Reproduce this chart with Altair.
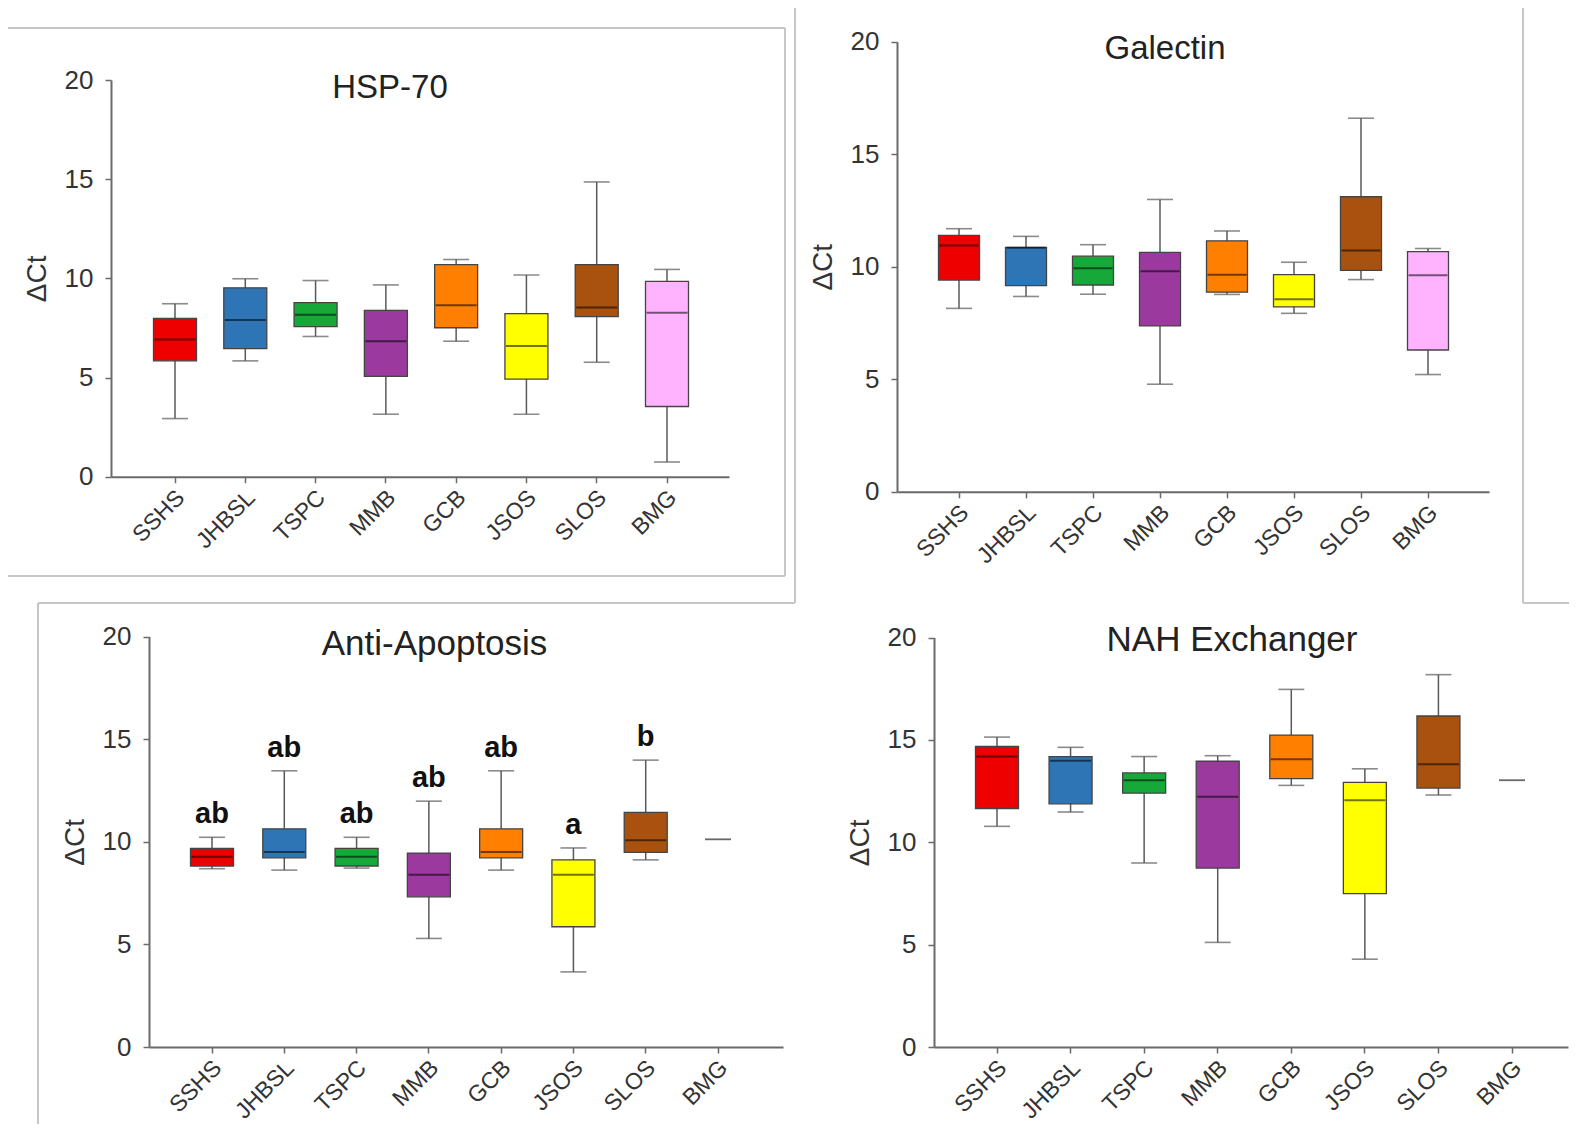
import altair as alt
import pandas as pd

# ---------------- data ----------------
categories = ["SSHS", "JHBSL", "TSPC", "MMB", "GCB", "JSOS", "SLOS", "BMG"]
box_colors = ["#ee0000", "#2e75b6", "#17a83a", "#9b399e", "#ff7f00", "#ffff00", "#a9520f", "#ffb3ff"]

# HSP-70
hsp_low = [2.93, 5.84, 7.07, 3.15, 6.83, 3.15, 5.77, 0.74]
hsp_q1 = [5.84, 6.46, 7.57, 5.06, 7.51, 4.92, 8.07, 3.54]
hsp_median = [6.92, 7.90, 8.16, 6.83, 8.65, 6.59, 8.53, 8.27]
hsp_q3 = [7.98, 9.52, 8.78, 8.39, 10.69, 8.22, 10.69, 9.85]
hsp_high = [8.72, 9.98, 9.89, 9.67, 10.95, 10.17, 14.86, 10.45]

# Galectin
gal_low = [8.15, 8.68, 8.78, 4.78, 8.77, 7.93, 9.43, 5.21]
gal_q1 = [9.41, 9.16, 9.19, 7.37, 8.87, 8.22, 9.84, 6.30]
gal_median = [10.94, 10.84, 9.93, 9.80, 9.65, 8.56, 10.72, 9.62]
gal_q3 = [11.39, 10.86, 10.47, 10.64, 11.15, 9.65, 13.11, 10.67]
gal_high = [11.69, 11.35, 10.98, 12.99, 11.59, 10.20, 16.60, 10.81]

# Anti-Apoptosis
apo_low = [8.69, 8.62, 8.72, 5.29, 8.62, 3.66, 9.12, 10.12]
apo_q1 = [8.82, 9.22, 8.82, 7.32, 9.22, 5.86, 9.48, 10.12]
apo_median = [9.27, 9.50, 9.27, 8.40, 9.50, 8.40, 10.07, 10.12]
apo_q3 = [9.68, 10.63, 9.68, 9.45, 10.63, 9.12, 11.43, 10.12]
apo_high = [10.22, 13.46, 10.22, 11.98, 13.46, 9.70, 13.98, 10.12]
apo_letters = ["ab", "ab", "ab", "ab", "ab", "a", "b", ""]

# NAH Exchanger
nah_low = [10.78, 11.48, 8.99, 5.11, 12.78, 4.29, 12.31, 13.03]
nah_q1 = [11.65, 11.88, 12.40, 8.74, 13.11, 7.49, 12.65, 13.03]
nah_median = [14.19, 13.98, 13.03, 12.23, 14.06, 12.06, 13.81, 13.03]
nah_q3 = [14.69, 14.19, 13.39, 13.96, 15.24, 12.93, 16.17, 13.03]
nah_high = [15.14, 14.64, 14.19, 14.23, 17.47, 13.59, 18.19, 13.03]

titles = ["HSP-70", "Galectin", "Anti-Apoptosis", "NAH Exchanger"]

# ---------------- layout (page pixels) ----------------
OX, OY = 8, 8
W, H = 1561, 1116
FONT = "Liberation Sans"

layouts = [
    dict(x0=111, x1=729, c0=175, c7=667, y0=476.7, y20=80, box=43, tx=390, ty=87.5, tf=33),
    dict(x0=897, x1=1489, c0=959, c7=1428, y0=491.8, y20=41.7, box=41, tx=1165, ty=48.5, tf=33),
    dict(x0=149, x1=783, c0=212, c7=718, y0=1047, y20=636.6, box=43, tx=434.5, ty=643.6, tf=35),
    dict(x0=934, x1=1568, c0=997, c7=1512, y0=1047, y20=637.6, box=43, tx=1232, ty=639.6, tf=35),
]

frame_h = [(7, 785, 28), (7, 785, 576), (38, 795, 603), (1523, 1577, 603)]
frame_v = [(7, 28, 576), (785, 28, 576), (795, 7, 603), (38, 603, 1132), (1523, 7, 603)]

color_scale = alt.Scale(domain=categories, range=box_colors)


def make_df(low, q1, med, q3, high, letters=None):
    d = pd.DataFrame({"cat": categories, "low": low, "q1": q1, "med": med, "q3": q3, "high": high})
    if letters is not None:
        d["letter"] = letters
    return d


def panel(df, title, lay, with_letters=False):
    n = len(categories)
    r0, r1 = lay["x0"] - OX, lay["x1"] - OX
    L = r1 - r0
    step = (lay["c7"] - lay["c0"]) / (n - 1)
    po = (L / step - n) / 2
    extra = L - n * step
    align = (lay["c0"] - lay["x0"] - step / 2) / extra
    align = min(max(align, 0), 1)
    xscale = alt.Scale(domain=categories, range=[r0, r1], paddingInner=0,
                       paddingOuter=po, align=align)
    yscale = alt.Scale(domain=[0, 20], range=[lay["y0"] - OY, lay["y20"] - OY],
                       nice=False, zero=False)

    x_axis = alt.Axis(orient="bottom", offset=(lay["y0"] - OY) - H, title="",
                      labelAngle=-45, labelAlign="right", labelBaseline="middle",
                      labelFontSize=23, labelPadding=11, labelOffset=6, grid=False)
    y_axis = alt.Axis(orient="left", offset=-(lay["x0"] - OX), values=[0, 5, 10, 15, 20],
                      title="ΔCt", titleFontSize=28, titleFontWeight="normal",
                      titlePadding=13, labelFontSize=26, labelPadding=12, grid=False)

    def X():
        return alt.X("cat:N", scale=xscale, sort=categories, axis=x_axis)

    def Y(field):
        return alt.Y(field, scale=yscale, axis=y_axis)

    base = alt.Chart(df)
    whisker = base.mark_rule(color="#5a5a5a", strokeWidth=1.5).encode(
        x=X(), y=Y("low:Q"), y2="high:Q")
    cap_lo = base.mark_tick(color="#5a5a5a", size=26, thickness=1.6).encode(
        x=X(), y=Y("low:Q"))
    cap_hi = base.mark_tick(color="#5a5a5a", size=26, thickness=1.6).encode(
        x=X(), y=Y("high:Q"))
    box = base.transform_filter("datum.q3 > datum.q1").mark_bar(
        size=lay["box"], stroke="#444444", strokeWidth=1.3, opacity=1).encode(
        x=X(), y=Y("q1:Q"), y2="q3:Q",
        color=alt.Color("cat:N", scale=color_scale, legend=None))
    med = base.transform_filter("datum.q3 > datum.q1").mark_tick(
        color="#000000", opacity=0.55, size=lay["box"] - 2, thickness=2).encode(
        x=X(), y=Y("med:Q"))

    ttl = alt.Chart(pd.DataFrame({"t": [title]})).mark_text(
        font=FONT, fontSize=lay["tf"], color="#222222", align="center", baseline="middle").encode(
        text="t:N", x=alt.value(lay["tx"] - OX), y=alt.value(lay["ty"] - OY))

    layers = [whisker, cap_lo, cap_hi, box, med, ttl]
    if with_letters:
        let = base.mark_text(font=FONT, fontSize=29, fontWeight="bold", color="#111111",
                             baseline="bottom", dy=-8).encode(
            x=X(), y=Y("high:Q"), text="letter:N")
        layers.append(let)
    return alt.layer(*layers)


p1 = panel(make_df(hsp_low, hsp_q1, hsp_median, hsp_q3, hsp_high), titles[0], layouts[0])
p2 = panel(make_df(gal_low, gal_q1, gal_median, gal_q3, gal_high), titles[1], layouts[1])
p3 = panel(make_df(apo_low, apo_q1, apo_median, apo_q3, apo_high, apo_letters), titles[2],
           layouts[2], with_letters=True)
p4 = panel(make_df(nah_low, nah_q1, nah_median, nah_q3, nah_high), titles[3], layouts[3])

one = pd.DataFrame({"k": [0]})
frames = []
for (a, b, y) in frame_h:
    frames.append(alt.Chart(one).mark_rule(color="#c6c6c6", strokeWidth=2).encode(
        x=alt.value(a - OX), x2=alt.value(b - OX), y=alt.value(y - OY)))
for (x, a, b) in frame_v:
    frames.append(alt.Chart(one).mark_rule(color="#c6c6c6", strokeWidth=2).encode(
        x=alt.value(x - OX), y=alt.value(a - OY), y2=alt.value(b - OY)))

chart = alt.layer(p1, p2, p3, p4, *frames).resolve_scale(
    x="independent", y="independent"
).properties(
    width=W, height=H, padding=0, autosize="none", background="white"
).configure_view(stroke=None).configure_axis(
    grid=False, domainColor="#6a6a6a", domainWidth=2, tickColor="#6a6a6a",
    tickWidth=1.5, tickSize=6, labelColor="#333333", titleColor="#333333",
    labelFont=FONT, titleFont=FONT
)

chart.save("out.html", embed_options={"renderer": "svg", "actions": False})
